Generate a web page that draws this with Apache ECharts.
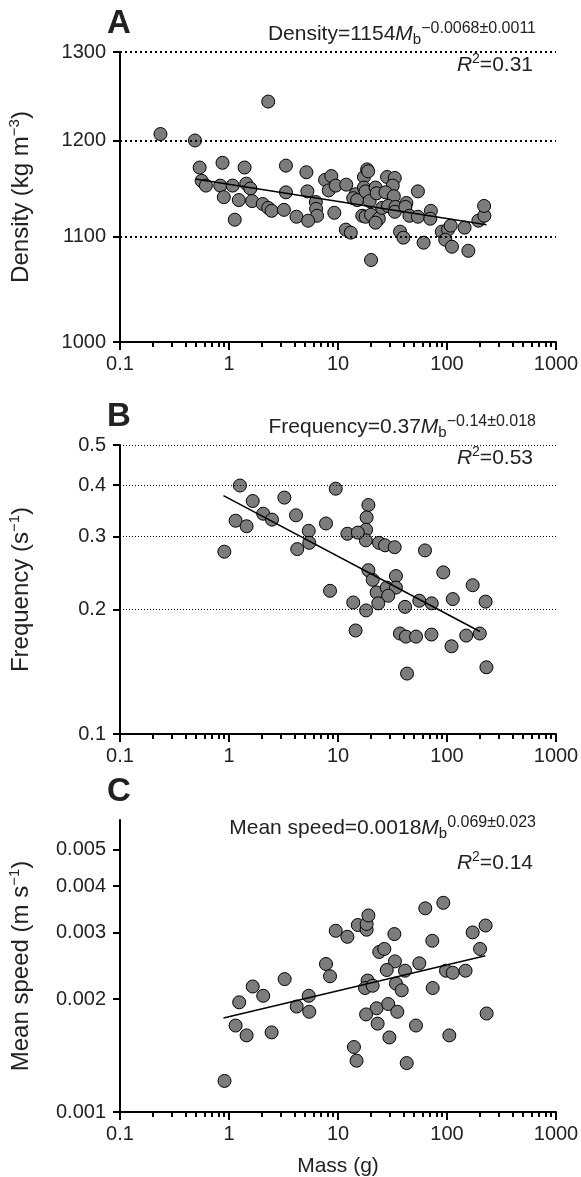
<!DOCTYPE html>
<html><head><meta charset="utf-8">
<script src="https://cdn.jsdelivr.net/npm/echarts@6/dist/echarts.min.js"></script>
<style>html,body{margin:0;padding:0;background:#fff}#c{width:581px;height:1177px}</style>
</head><body><div id="c"></div>
<script>
// ---------- tick labels ----------
const massTicks = [0.1, 1, 10, 100, 1000];
const massMinorTicks = [0.2,0.3,0.4,0.5,0.6,0.7,0.8,0.9, 2,3,4,5,6,7,8,9, 20,30,40,50,60,70,80,90, 200,300,400,500,600,700,800,900];
const densityTicks = [1000, 1100, 1200, 1300];
const frequencyTicks = [0.1, 0.2, 0.3, 0.4, 0.5];
const speedTicks = [0.001, 0.002, 0.003, 0.004, 0.005];

// ---------- panel A: density ----------
const densityMass = [0.235,0.487,2.29,0.538,0.872,1.39,3.33,5.13,0.561,0.614,0.831,1.08,0.896,1.44,1.57,1.23,1.63,2.04,2.29,2.46,3.19,3.33,5.24,6.26,6.30,6.43,4.16,5.32,1.13,7.61,8.69,8.22,9.53,9.25,11.9,14.5,13.8,15.0,17.3,18.5,18.9,17.3,17.9,19.5,22.1,22.6,16.7,17.9,20.1,23.7,22.1,11.8,13.1,20.1,25.4,28.2,33.2,31.8,27.3,32.5,28.8,33.7,33.2,42.4,41.5,45.2,54.1,54.1,37.1,39.8,61.0,71.1,70.2,89.7,102,108,96.3,111,145,157,194,220,219];
const densityValue = [1207,1200,1243,1171,1176,1171,1173,1166,1157,1152,1152,1152,1140,1154,1149,1137,1136,1133,1129,1126,1127,1145,1146,1135,1128,1121,1120,1116,1117,1158,1162,1147,1152,1124,1153,1143,1139,1137,1161,1169,1167,1150,1146,1136,1150,1144,1121,1120,1122,1118,1114,1107,1104,1077,1129,1161,1160,1152,1145,1141,1131,1130,1125,1134,1130,1121,1146,1120,1105,1099,1094,1126,1118,1105,1107,1111,1097,1090,1109,1086,1116,1121,1131];
const densityFitMass = [0.49, 230];
const densityFitValue = [1159, 1112];

// ---------- panel B: frequency ----------
const freqMass = [1.26,0.906,1.15,1.45,1.65,2.06,2.48,3.22,4.12,4.23,5.39,5.45,7.76,8.45,9.53,19.0,18.3,18.1,18.0,12.2,15.2,23.8,27.0,33.1,62.8,19.0,20.8,34.0,92.5,172,22.6,28.0,34.0,28.9,23.4,13.8,18.1,41.2,55.7,72.4,113,226,14.5,37,42,52,72,110,150,200,43,230];
const freqValue = [0.399,0.276,0.328,0.318,0.366,0.341,0.330,0.373,0.338,0.280,0.310,0.290,0.323,0.222,0.392,0.358,0.334,0.312,0.294,0.305,0.307,0.290,0.286,0.283,0.278,0.249,0.236,0.241,0.246,0.229,0.220,0.226,0.226,0.216,0.207,0.208,0.199,0.203,0.210,0.207,0.212,0.209,0.178,0.175,0.172,0.172,0.174,0.163,0.173,0.175,0.140,0.145];
const freqFitMass = [0.89, 200];
const freqFitValue = [0.377, 0.177];

// ---------- panel C: mean speed ----------
const speedMass = [1.65,1.24,2.06,3.24,5.39,4.18,5.45,7.76,8.45,9.53,1.15,1.45,2.46,0.909,12.2,15.2,18.3,18.3,19.0,32.9,63.2,92.5,172,226,73.3,23.9,26.6,201,33.3,28.0,41.2,55.7,97.9,113,148,18.7,17.7,20.8,34.0,38.4,73.9,22.6,18.1,28.9,35.0,23.1,51.9,105,231,29.6,14.0,14.8,42.7];
const speedValue = [0.00216,0.00196,0.00204,0.00226,0.00204,0.00191,0.00185,0.00248,0.00230,0.00304,0.00170,0.00160,0.00163,0.00121,0.00293,0.00315,0.00306,0.00317,0.00334,0.00298,0.00349,0.00361,0.00301,0.00314,0.00286,0.00267,0.00272,0.00272,0.00252,0.00239,0.00238,0.00249,0.00238,0.00235,0.00238,0.00224,0.00214,0.00217,0.00220,0.00211,0.00214,0.00189,0.00182,0.00194,0.00185,0.00172,0.00170,0.00160,0.00183,0.00158,0.00149,0.00137,0.00135];
const speedFitMass = [0.89, 225];
const speedFitValue = [0.00178, 0.00261];

// ---------- build ----------
const FONT = '"Liberation Sans", Arial, sans-serif';
const TXT = '#222';
const fmt = v => String(+Number(v).toPrecision(4));
const pair = (xs, ys) => xs.map((x, i) => [x, ys[i]]);

const panels = [
  { letter: 'A', top: 52, height: 290, yMin: 1000, yMax: 1300, ticks: densityTicks, grid: [1100, 1200, 1300],
    gridStyle: { width: 2, type: [2, 3] }, xs: densityMass, ys: densityValue, fx: densityFitMass, fy: densityFitValue,
    name: 'Density (kg m{sup|−3})', eq: 'Density=1154{i|M}{sub|b}{sup|−0.0068±0.0011}', r2: '{i|R}{s2|2}=0.31', eqY: 34, r2Y: 65 },
  { letter: 'B', top: 445, height: 289, yMin: 0.1, yMax: 0.5, ticks: frequencyTicks, grid: [0.2, 0.3, 0.4, 0.5],
    gridStyle: { width: 1, type: [1, 2] }, xs: freqMass, ys: freqValue, fx: freqFitMass, fy: freqFitValue,
    name: 'Frequency (s{sup|−1})', eq: 'Frequency=0.37{i|M}{sub|b}{sup|−0.14±0.018}', r2: '{i|R}{s2|2}=0.53', eqY: 427, r2Y: 458 },
  { letter: 'C', top: 820, height: 292, yMin: 0.001, yMax: 0.006, ticks: speedTicks, grid: [0.002, 0.003, 0.004, 0.005],
    gridStyle: { width: 1, type: [1, 2] }, xs: speedMass, ys: speedValue, fx: speedFitMass, fy: speedFitValue,
    name: 'Mean speed (m s{sup|−1})', eq: 'Mean speed=0.0018{i|M}{sub|b}{sup|0.069±0.023}', r2: '{i|R}{s2|2}=0.14', eqY: 828, r2Y: 863 }
];

const richOpt = {
  sup: { fontSize: 15, verticalAlign: 'top', lineHeight: 28, fontFamily: FONT, color: TXT }
};
const richG = {
  sup: { fontSize: 16, verticalAlign: 'top', lineHeight: 26, fontFamily: FONT, fill: TXT },
  s2: { fontSize: 14, verticalAlign: 'top', lineHeight: 26, fontFamily: FONT, fill: TXT },
  sub: { fontSize: 15, verticalAlign: 'bottom', lineHeight: 26, fontFamily: FONT, fill: TXT },
  i: { fontSize: 21, fontStyle: 'italic', lineHeight: 26, fontFamily: FONT, fill: TXT }
};

const grids = [], xAxes = [], yAxes = [], series = [], graphics = [];
panels.forEach((p, i) => {
  grids.push({ left: 120, right: 25, top: p.top, height: p.height, containLabel: false, outerBoundsMode: 'none' });
  xAxes.push({
    type: 'log', logBase: 10, gridIndex: i, min: 0.1, max: 1000, position: 'bottom',
    axisLine: { show: true, onZero: false, lineStyle: { color: '#000', width: 2 } },
    axisTick: { show: true, length: 8, customValues: massTicks, lineStyle: { color: '#000', width: 2 } },
    axisLabel: { show: true, customValues: massTicks, fontSize: 20, color: TXT, fontFamily: FONT, margin: 12, formatter: fmt },
    splitLine: { show: false }
  });
  xAxes.push({
    type: 'log', logBase: 10, gridIndex: i, min: 0.1, max: 1000, position: 'bottom',
    axisLine: { show: false, onZero: false },
    axisTick: { show: true, length: 5, customValues: massMinorTicks, lineStyle: { color: '#000', width: 2 } },
    axisLabel: { show: false }, splitLine: { show: false }
  });
  yAxes.push({
    type: 'log', logBase: 10, gridIndex: i, min: p.yMin, max: p.yMax,
    axisLine: { show: true, onZero: false, lineStyle: { color: '#000', width: 2 } },
    axisTick: { show: true, length: 7, customValues: p.ticks, lineStyle: { color: '#000', width: 2 } },
    axisLabel: { show: true, customValues: p.ticks, fontSize: 20, color: TXT, fontFamily: FONT, margin: 14, formatter: fmt },
    splitLine: { show: false },
    name: p.name, nameLocation: 'middle', nameRotate: 90, nameGap: 85,
    nameTextStyle: { fontSize: 24, color: TXT, fontFamily: FONT, lineHeight: 28, rich: richOpt }
  });
  // dotted reference lines
  series.push({
    type: 'line', xAxisIndex: 2 * i, yAxisIndex: i, data: [], z: 1, silent: true,
    markLine: { silent: true, symbol: 'none', label: { show: false },
      lineStyle: Object.assign({ color: '#000' }, p.gridStyle),
      data: p.grid.map(v => ({ yAxis: v })) }
  });
  series.push({
    type: 'scatter', xAxisIndex: 2 * i, yAxisIndex: i, data: pair(p.xs, p.ys), symbolSize: 13, z: 3,
    itemStyle: { color: '#7c7c7c', borderColor: '#000', borderWidth: 1, opacity: 1 }
  });
  series.push({
    type: 'line', xAxisIndex: 2 * i, yAxisIndex: i, data: pair(p.fx, p.fy), symbol: 'none', z: 4, silent: true,
    lineStyle: { color: '#000', width: 1.5 }
  });
  graphics.push({ type: 'text', x: 107, y: p.top - 28, style: { text: p.letter, fill: '#222', fontSize: 33, fontWeight: 'bold', fontFamily: FONT, verticalAlign: 'middle', align: 'left' } });
  graphics.push({ type: 'text', x: 536, y: p.eqY, style: { text: p.eq, fill: TXT, fontSize: 21, fontFamily: FONT, lineHeight: 26, align: 'right', verticalAlign: 'middle', rich: richG } });
  graphics.push({ type: 'text', x: 533, y: p.r2Y, style: { text: p.r2, fill: TXT, fontSize: 21, fontFamily: FONT, lineHeight: 26, align: 'right', verticalAlign: 'middle', rich: richG } });
});
graphics.push({ type: 'text', x: 338, y: 1166, style: { text: 'Mass (g)', fill: TXT, fontSize: 21, fontFamily: FONT, align: 'center', verticalAlign: 'middle' } });

const chart = echarts.init(document.getElementById('c'), null, { renderer: 'canvas' });
chart.setOption({
  animation: false,
  backgroundColor: '#fff',
  textStyle: { fontFamily: FONT },
  grid: grids, xAxis: xAxes, yAxis: yAxes, series: series, graphic: graphics
});
</script></body></html>
